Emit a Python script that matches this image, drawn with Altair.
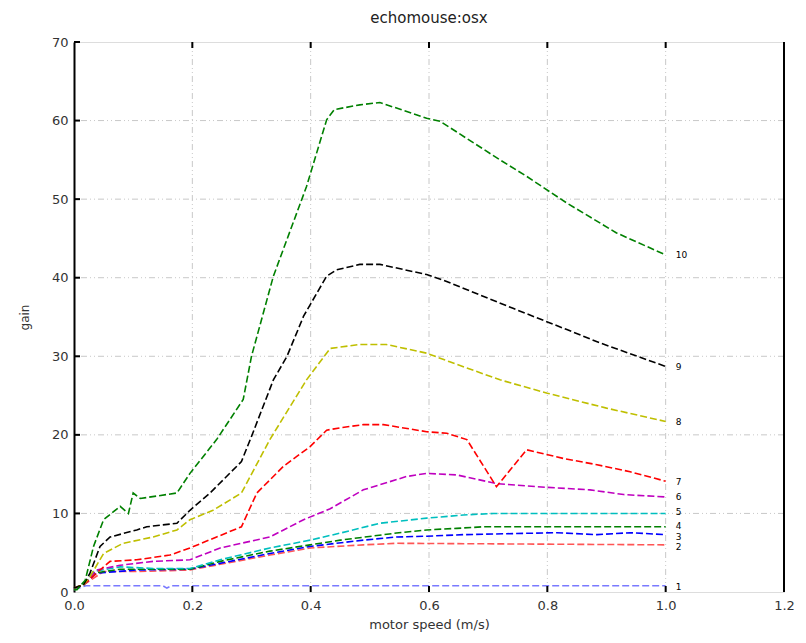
import altair as alt
import pandas as pd

# ---- data ----
s1_x = [0, 0.02, 0.15, 0.157, 0.165, 1.0]
s1_y = [0.3, 0.8, 0.8, 0.5, 0.8, 0.8]
s2_x = [0, 0.016, 0.05, 0.106, 0.196, 0.331, 0.399, 0.489, 0.545, 1.0]
s2_y = [0.5, 0.9, 2.6, 2.6, 2.8, 4.7, 5.6, 6.0, 6.2, 6.0]
s3_x = [0, 0.016, 0.038, 0.106, 0.196, 0.331, 0.399, 0.489, 0.545, 0.596, 0.658, 0.816, 0.884, 0.94, 1.0]
s3_y = [0.5, 0.9, 2.4, 2.8, 2.9, 4.9, 5.8, 6.6, 7.0, 7.1, 7.3, 7.55, 7.3, 7.55, 7.3]
s4_x = [0, 0.016, 0.033, 0.078, 0.134, 0.196, 0.247, 0.331, 0.399, 0.45, 0.545, 0.596, 0.647, 0.692, 1.0]
s4_y = [0.5, 0.9, 2.4, 2.9, 2.9, 2.9, 3.9, 5.2, 6.0, 6.6, 7.5, 7.9, 8.1, 8.3, 8.3]
s5_x = [0, 0.016, 0.033, 0.078, 0.134, 0.196, 0.247, 0.331, 0.399, 0.45, 0.517, 0.596, 0.658, 0.709, 1.0]
s5_y = [0.5, 0.9, 2.6, 3.2, 3.0, 3.0, 4.1, 5.6, 6.6, 7.5, 8.75, 9.4, 9.8, 10.0, 10.0]
s6_x = [0, 0.016, 0.038, 0.078, 0.134, 0.196, 0.247, 0.331, 0.388, 0.433, 0.489, 0.562, 0.596, 0.647, 0.714, 0.782, 0.872, 0.929, 1.0]
s6_y = [0.5, 0.9, 2.8, 3.4, 3.9, 4.1, 5.6, 7.0, 9.2, 10.6, 13.0, 14.7, 15.1, 14.9, 13.8, 13.4, 13.0, 12.4, 12.1]
s7_x = [0, 0.016, 0.044, 0.061, 0.106, 0.162, 0.196, 0.241, 0.283, 0.309, 0.354, 0.399, 0.427, 0.45, 0.489, 0.523, 0.596, 0.63, 0.664, 0.714, 0.765, 0.827, 0.884, 0.94, 1.0]
s7_y = [0.5, 0.9, 2.8, 3.9, 4.1, 4.7, 5.6, 7.0, 8.3, 12.6, 16.0, 18.5, 20.6, 20.9, 21.3, 21.3, 20.4, 20.2, 19.4, 13.4, 18.1, 17.0, 16.2, 15.3, 14.1]
s8_x = [0, 0.016, 0.027, 0.05, 0.083, 0.134, 0.174, 0.196, 0.235, 0.283, 0.331, 0.393, 0.433, 0.483, 0.528, 0.596, 0.635, 0.72, 0.8, 0.9, 1.0]
s8_y = [0.5, 0.9, 1.95, 4.9, 6.2, 7.0, 7.9, 9.2, 10.4, 12.6, 19.4, 27.0, 31.0, 31.5, 31.5, 30.4, 29.3, 27.0, 25.3, 23.4, 21.7]
s9_x = [0, 0.016, 0.027, 0.044, 0.061, 0.106, 0.123, 0.174, 0.196, 0.23, 0.283, 0.30, 0.337, 0.36, 0.388, 0.427, 0.444, 0.483, 0.517, 0.596, 0.624, 0.686, 0.742, 0.833, 0.889, 1.0]
s9_y = [0.5, 0.9, 2.4, 5.8, 7.0, 7.9, 8.3, 8.75, 10.4, 12.6, 16.6, 19.8, 27.0, 30.0, 35.1, 40.2, 41.0, 41.7, 41.7, 40.4, 39.7, 37.8, 36.1, 33.4, 31.7, 28.7]
s10_x = [0, 0.005, 0.019, 0.033, 0.05, 0.078, 0.092, 0.1, 0.112, 0.174, 0.196, 0.241, 0.286, 0.30, 0.337, 0.393, 0.427, 0.44, 0.483, 0.517, 0.596, 0.619, 0.72, 0.765, 0.833, 0.917, 1.0]
s10_y = [0.3, 0.3, 1.5, 5.8, 9.2, 10.9, 10.0, 12.6, 11.9, 12.6, 15.1, 19.4, 24.5, 30.0, 40.2, 51.6, 60.1, 61.4, 62.0, 62.3, 60.3, 59.9, 55.0, 52.9, 49.5, 45.7, 42.9]

series_names = ["1", "2", "3", "4", "5", "6", "7", "8", "9", "10"]
series_colors = ["#7a7aff", "#ff5555", "#0000ff", "#008000", "#00bfbf", "#bf00bf", "#ff0000", "#bfbf00", "#000000", "#008000"]
# end-of-line label positions as they appear in the reference
label_x = 1.017
label_y = [0.7, 5.75, 7.05, 8.45, 10.2, 12.1, 14.0, 21.7, 28.7, 42.9]

x_ticks = [0.0, 0.2, 0.4, 0.6, 0.8, 1.0, 1.2]
y_ticks = [0, 10, 20, 30, 40, 50, 60, 70]
x_grid = [0.2, 0.4, 0.6, 0.8, 1.0]
y_grid = [10, 20, 30, 40, 50, 60]

xs = [s1_x, s2_x, s3_x, s4_x, s5_x, s6_x, s7_x, s8_x, s9_x, s10_x]
ys = [s1_y, s2_y, s3_y, s4_y, s5_y, s6_y, s7_y, s8_y, s9_y, s10_y]

rows = []
for name, sx, sy in zip(series_names, xs, ys):
    for i, (a, b) in enumerate(zip(sx, sy)):
        rows.append({"series": name, "speed": a, "gain": b, "i": i})
df = pd.DataFrame(rows)
lab = pd.DataFrame({"series": series_names, "speed": [label_x] * len(series_names), "gain": label_y})

W, H = 710, 550
xscale = alt.Scale(domain=[0, 1.2], nice=False, zero=False)
yscale = alt.Scale(domain=[0, 70], nice=False)

base_x = alt.X("speed:Q", scale=xscale, title="motor speed (m/s)",
               axis=alt.Axis(values=x_ticks, format=".1f", ticks=False, domain=False, grid=False,
                             labelFlush=False, labelOverlap=False,
                             labelFontSize=13, labelColor="#333333", labelPadding=7,
                             titleFontSize=13, titleFontWeight="normal", titleColor="#333333",
                             titlePadding=6, labelFont="DejaVu Sans", titleFont="DejaVu Sans"))
base_y = alt.Y("gain:Q", scale=yscale, title="gain",
               axis=alt.Axis(values=y_ticks, ticks=False, domain=True, domainColor="black",
                             domainWidth=2, grid=False, labelFlush=False, labelOverlap=False,
                             labelFontSize=13, labelColor="#333333",
                             labelPadding=6, titleFontSize=12, titleFontWeight="normal",
                             titleColor="#333333", titlePadding=20,
                             labelFont="DejaVu Sans", titleFont="DejaVu Sans"))

grid_style = dict(color="#c8c8c8", strokeWidth=1, strokeDash=[6, 3, 1, 3, 1, 3])
vgrid = alt.Chart(pd.DataFrame({"speed": x_grid})).mark_rule(**grid_style).encode(
    x=alt.X("speed:Q", scale=xscale))
hgrid = alt.Chart(pd.DataFrame({"gain": y_grid})).mark_rule(**grid_style).encode(
    y=alt.Y("gain:Q", scale=yscale))

lines = alt.Chart(df).mark_line(strokeWidth=1.6, strokeDash=[7, 3]).encode(
    x=base_x,
    y=base_y,
    color=alt.Color("series:N", scale=alt.Scale(domain=series_names, range=series_colors), legend=None),
    detail="series:N",
    order="i:Q",
)

text = alt.Chart(lab).mark_text(align="left", baseline="middle", fontSize=9,
                                font="DejaVu Sans", color="black").encode(
    x=alt.X("speed:Q", scale=xscale),
    y=alt.Y("gain:Q", scale=yscale),
    text="series:N",
)

tick_x_df = pd.DataFrame({"speed": x_grid})
bottom_ticks = alt.Chart(tick_x_df).mark_rule(color="black", strokeWidth=2).encode(
    x=alt.X("speed:Q", scale=xscale), y=alt.value(H), y2=alt.value(H - 6))
top_ticks = alt.Chart(tick_x_df).mark_rule(color="black", strokeWidth=2).encode(
    x=alt.X("speed:Q", scale=xscale), y=alt.value(0), y2=alt.value(6))
left_ticks = alt.Chart(pd.DataFrame({"gain": y_ticks[1:]})).mark_rule(color="black", strokeWidth=2).encode(
    y=alt.Y("gain:Q", scale=yscale), x=alt.value(0), x2=alt.value(6))
right_line = alt.Chart(pd.DataFrame({"speed": [1.2]})).mark_rule(color="black", strokeWidth=2).encode(
    x=alt.X("speed:Q", scale=xscale))

chart = alt.layer(vgrid, hgrid, lines, text, bottom_ticks, top_ticks, left_ticks, right_line).properties(
    width=W, height=H,
    title=alt.TitleParams("echomouse:osx", fontSize=15, fontWeight="normal", font="DejaVu Sans",
                          color="#222222", offset=10),
    autosize=alt.AutoSizeParams(type="none"),
    padding={"left": 66, "top": 34, "right": 14, "bottom": 43},
).configure_view(stroke=None).configure(background="white")

chart.save("out.html", embed_options={"renderer": "svg", "actions": False})
